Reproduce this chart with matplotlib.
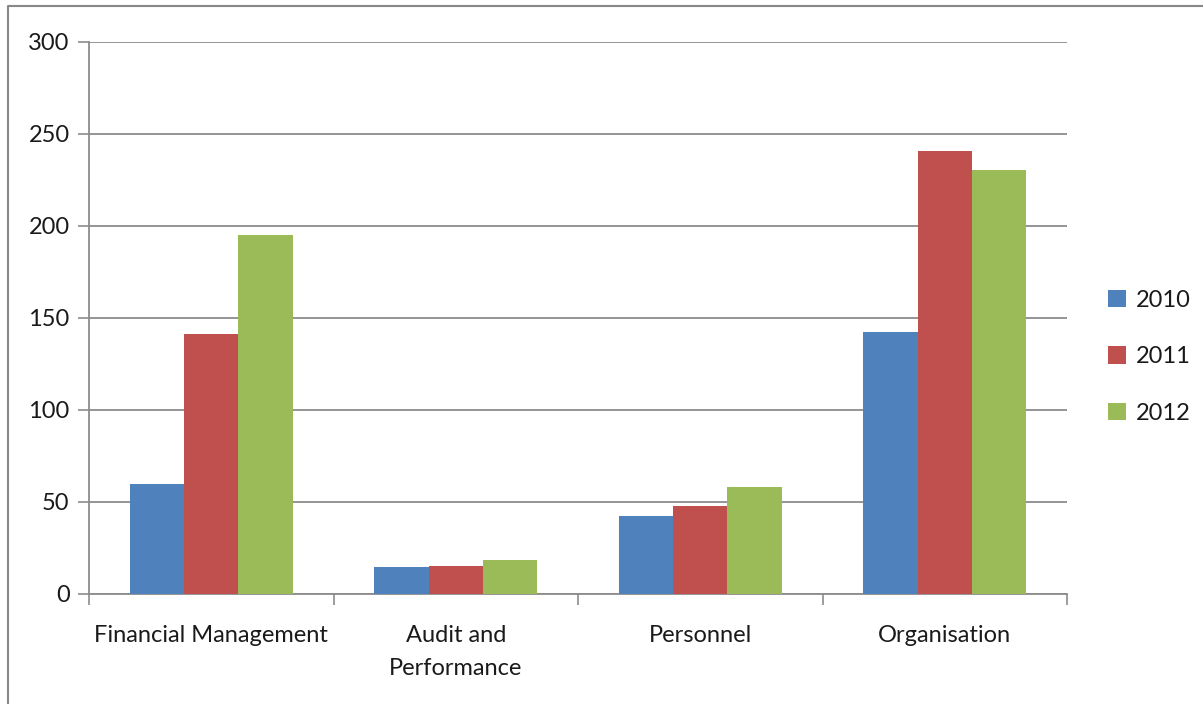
import numpy as np
import matplotlib
matplotlib.use("Agg")
import matplotlib.pyplot as plt
from matplotlib.lines import Line2D

categories = ["Financial Management", "Audit and\nPerformance", "Personnel", "Organisation"]
years = ["2010", "2011", "2012"]
v2010 = [60, 14.5, 42.5, 142.5]
v2011 = [141.5, 15, 48, 241]
v2012 = [195, 18.5, 58, 230.5]
colors = ["#4f81bd", "#c0504d", "#9bbb59"]

plt.rcParams['font.family'] = ['Lato', 'DejaVu Sans']

fig = plt.figure(figsize=(12.03, 7.04), dpi=100)
ax = fig.add_axes([89/1203, 110/704, 978/1203, 552/704])

x = np.arange(len(categories))
w = 0.222
for i, (vals, yr) in enumerate(zip([v2010, v2011, v2012], years)):
    ax.bar(x + (i - 1) * w, vals, width=w, color=colors[i], label=yr, zorder=3)

ax.set_xlim(-0.5, len(categories) - 0.5)
ax.set_ylim(0, 300)
ax.set_yticks(np.arange(0, 301, 50))
ax.yaxis.grid(True, color="#8c8c8c", linewidth=1.3, zorder=0)
ax.set_axisbelow(True)

# category labels between boundary ticks
ax.set_xticks(np.arange(-0.5, len(categories), 1.0))
ax.set_xticklabels([])
ax.set_xticks(x, minor=True)
ax.set_xticklabels(categories, minor=True, fontsize=17, color="#1a1a1a", linespacing=1.75)
ax.tick_params(axis='x', which='minor', length=0, pad=22)
ax.tick_params(axis='x', which='major', length=8, width=1.2, color="#8c8c8c")
ax.tick_params(axis='y', length=8, width=1.2, color="#8c8c8c", labelsize=17,
               labelcolor="#1a1a1a", pad=6)

for s in ["top", "right"]:
    ax.spines[s].set_visible(False)
for s in ["left", "bottom"]:
    ax.spines[s].set_color("#8c8c8c")
    ax.spines[s].set_linewidth(1.3)

leg = ax.legend(loc="center left", bbox_to_anchor=(1.02, 0.43), frameon=False,
                fontsize=17, handlelength=0.75, handleheight=0.75, handletextpad=0.45,
                labelspacing=1.5)
for t in leg.get_texts():
    t.set_color("#1a1a1a")

# outer frame (left and top edges visible)
fx = 8/1203
fy = 1 - 6/704
fig.add_artist(Line2D([fx, fx, 1], [0, fy, fy], transform=fig.transFigure,
                      color="#888888", linewidth=1.5))

fig.savefig("out.png", dpi=100)
